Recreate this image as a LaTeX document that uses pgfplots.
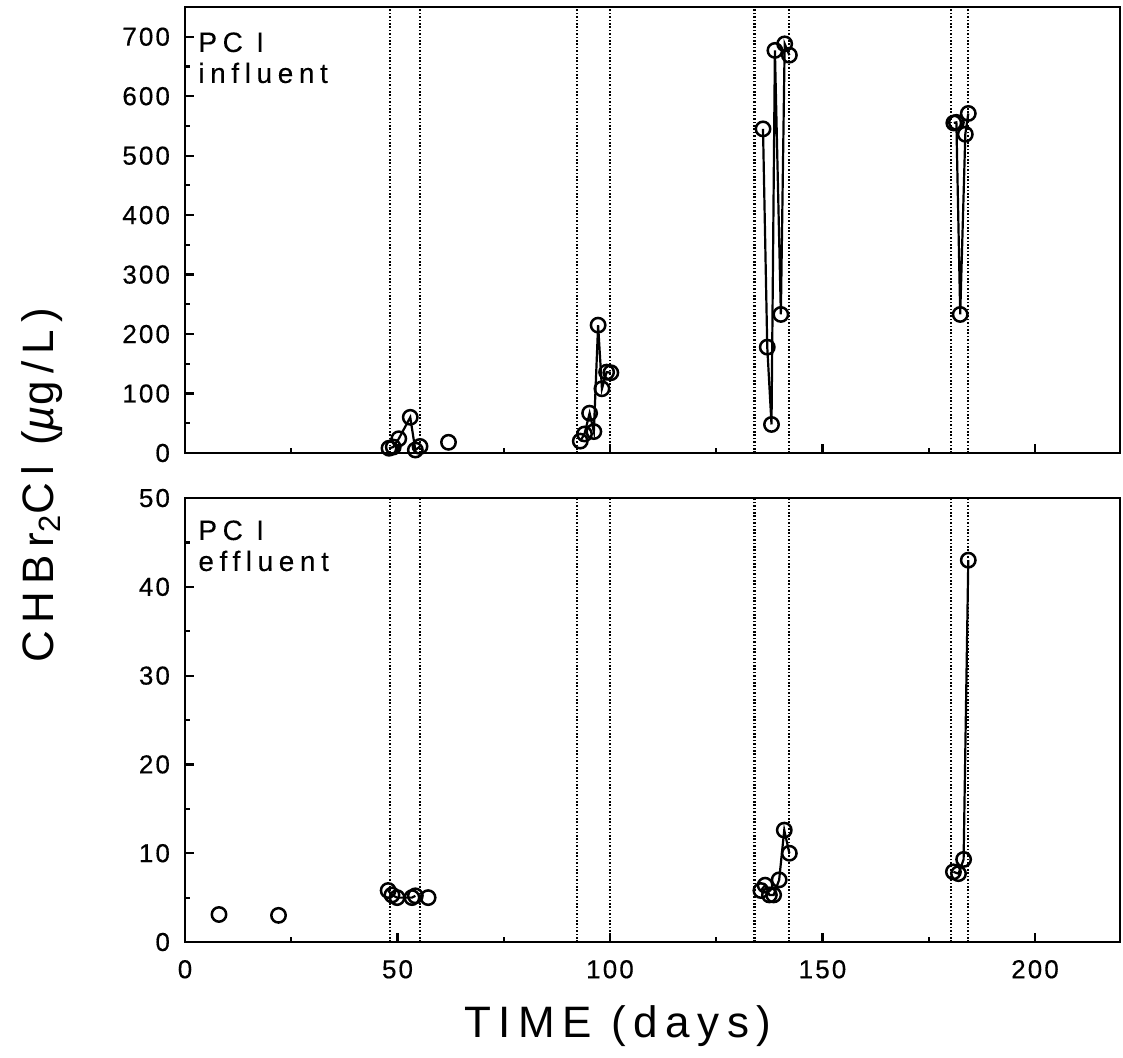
\documentclass[border=0pt]{standalone}
\usepackage{pgfplots}
\pgfplotsset{compat=1.18}
\usepackage{fontspec}
\setmainfont{Liberation Sans}
\newfontfamily\tickfont{Liberation Sans}[LetterSpace=8, FakeBold=0.4]
\newfontfamily\panelfont{Liberation Sans}[LetterSpace=20, FakeBold=0.2]
\newfontfamily\labelfont{Liberation Sans}[LetterSpace=17]
\newfontfamily\labelfontit{Liberation Sans Italic}[LetterSpace=17]

\pgfplotsset{
  panel/.style={
    scale only axis, width=467.5pt,
    xmin=0, xmax=220,
    xtick={0,50,...,200}, minor x tick num=1,
    tick align=inside, xtick pos=bottom, ytick pos=left,
    major tick length=4.5pt, minor tick length=2.5pt,
    axis line style={line width=1.3pt},
    every tick/.style={black, line width=1.1pt},
    tick label style={font=\tickfont\fontsize{13}{14}\selectfont},
    /pgf/number format/assume math mode=true,
    yticklabel style={xshift=-4pt},
    xticklabel style={yshift=-5.5pt},
    clip=false,
  },
  vline/.style={black, line width=1.1pt, dash pattern=on 0.8pt off 0.9pt},
  ser/.style={black, line width=1.1pt, mark=o, mark size=3.6pt,
    mark options={solid, fill=white, line width=1.25pt}},
  pts/.style={ser, only marks},
}

\begin{document}
\begin{tikzpicture}
\useasboundingbox (0,0) rectangle (561.5pt,528.5pt);

% ---------- top panel: influent ----------
\begin{axis}[panel, at={(92.5pt,525pt)}, anchor=north west, height=223pt,
  ymin=0, ymax=750, ytick={0,100,...,700}, minor y tick num=1,
  xticklabels={}]
\pgfplotsinvokeforeach{48.3,55.2,92.2,100,134,142.2,180.2,184.3}{
  \addplot[vline] coordinates {(#1,0) (#1,750)};
}
\addplot[ser] coordinates {(48,8) (49,10) (50.3,24) (53,60) (54.2,5) (55.3,11)};
\addplot[pts] coordinates {(62,18)};
\addplot[ser] coordinates {(93,20) (94,32) (95.2,67) (96.2,36) (97.2,215) (98.1,108) (99.2,136) (100.2,135)};
\addplot[ser] coordinates {(136,545) (137,178) (138,48) (138.8,677) (140.2,233) (141.1,688) (142.2,669)};
\addplot[ser] coordinates {(180.9,555) (181.5,556) (182.4,233) (183.6,536) (184.3,571)};
\node[anchor=north west, inner sep=0pt, align=left,
  font=\panelfont\fontsize{14}{15.5}\selectfont]
  at ([xshift=6.5pt,yshift=-12.5pt]rel axis cs:0,1) {PC I\\influent};
\end{axis}

% ---------- bottom panel: effluent ----------
\begin{axis}[panel, at={(92.5pt,57.5pt)}, anchor=south west, height=222pt,
  ymin=0, ymax=50, ytick={0,10,...,50}, minor y tick num=1]
\pgfplotsinvokeforeach{48.3,55.2,92.2,100,134,142.2,180.2,184.3}{
  \addplot[vline] coordinates {(#1,0) (#1,50)};
}
\addplot[pts] coordinates {(8,3.1) (22,3.0)};
\addplot[ser] coordinates {(47.8,5.8) (48.7,5.3) (49.9,5.0) (53.4,5.0) (54.2,5.2)};
\addplot[pts] coordinates {(57.2,5.0)};
\addplot[ser] coordinates {(135.5,5.8) (136.5,6.4) (137.5,5.3) (138.5,5.3) (139.8,7.0) (141,12.6) (142.2,10.0)};
\addplot[ser] coordinates {(180.8,7.9) (182,7.7) (183.2,9.3) (184.3,43)};
\node[anchor=north west, inner sep=0pt, align=left,
  font=\panelfont\fontsize{14}{15.5}\selectfont]
  at ([xshift=6.5pt,yshift=-11pt]rel axis cs:0,1) {PC I\\effluent};
\end{axis}

% ---------- axis titles ----------
\node[anchor=base, inner sep=0pt, font=\labelfont\fontsize{22}{24}\selectfont]
  at (309pt,10pt) {TIME (days)};
\node[anchor=base, rotate=90, inner sep=0pt, font=\labelfont\fontsize{22}{24}\selectfont]
  at (26.5pt,286pt) {CHBr\textsubscript{2}Cl ({\labelfontit µ}g/L)};
\end{tikzpicture}
\end{document}
